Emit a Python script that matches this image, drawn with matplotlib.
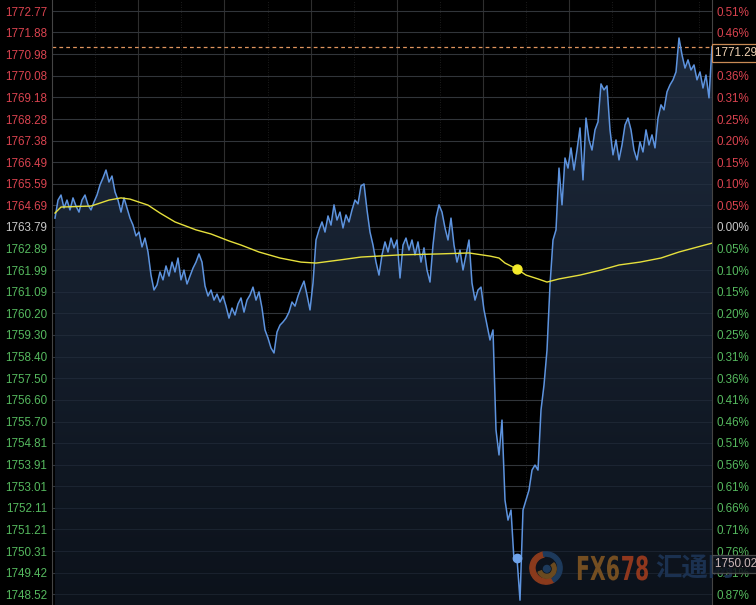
import matplotlib
matplotlib.use('Agg')
import matplotlib.pyplot as plt
import numpy as np
from matplotlib.colors import LinearSegmentedColormap
from matplotlib.patches import Wedge, Circle, PathPatch
from matplotlib.textpath import TextPath
from matplotlib.font_manager import FontProperties
from matplotlib.transforms import Affine2D, blended_transform_factory

# reference (previous close) price and the price grid levels
ref_price = 1763.79
levels = [1772.77, 1771.88, 1770.98, 1770.08, 1769.18, 1768.28, 1767.38,
          1766.49, 1765.59, 1764.69, 1763.79, 1762.89, 1761.99, 1761.09,
          1760.20, 1759.30, 1758.40, 1757.50, 1756.60, 1755.70, 1754.81,
          1753.91, 1753.01, 1752.11, 1751.21, 1750.31, 1749.42, 1748.52]

# intraday price (one point per time step)
price = [
    1764.16, 1764.91, 1765.12, 1764.58, 1764.91, 1764.50, 1765.00, 1764.66, 1764.41, 1764.91,
    1765.12, 1764.71, 1764.50, 1764.83, 1765.12, 1765.54, 1765.83, 1766.16, 1765.66, 1765.91,
    1765.25, 1764.91, 1764.41, 1765.00, 1764.58, 1764.16, 1763.87, 1763.42, 1763.58, 1762.96,
    1763.33, 1762.75, 1761.79, 1761.17, 1761.38, 1761.92, 1761.59, 1762.17, 1761.75, 1762.33,
    1761.92, 1762.50, 1761.59, 1762.00, 1761.42, 1761.75, 1762.08, 1762.33, 1762.67, 1762.33,
    1761.34, 1760.92, 1761.17, 1760.75, 1761.00, 1760.67, 1760.92, 1760.50, 1760.00, 1760.42,
    1760.13, 1760.59, 1760.84, 1760.25, 1760.75, 1760.96, 1761.29, 1760.75, 1761.09, 1760.42,
    1759.51, 1759.17, 1758.76, 1758.55, 1759.42, 1759.71, 1759.84, 1760.00, 1760.25, 1760.67,
    1760.50, 1760.92, 1761.25, 1761.54, 1760.96, 1760.34, 1761.46, 1763.25, 1763.67, 1764.00,
    1763.58, 1764.25, 1763.87, 1764.71, 1764.08, 1764.41, 1763.75, 1764.29, 1764.00, 1764.50,
    1764.91, 1764.75, 1765.50, 1765.58, 1764.50, 1763.58, 1763.04, 1762.33, 1761.79, 1762.63,
    1763.17, 1762.75, 1763.33, 1762.92, 1763.25, 1761.67, 1763.04, 1763.33, 1762.83, 1763.25,
    1762.63, 1763.17, 1762.33, 1762.92, 1762.00, 1761.50, 1763.04, 1764.16, 1764.71, 1764.41,
    1763.75, 1763.25, 1764.16, 1763.04, 1762.33, 1762.83, 1762.00, 1762.63, 1763.25, 1761.46,
    1760.75, 1761.17, 1761.29, 1760.34, 1759.71, 1759.09, 1759.51, 1755.35, 1754.31, 1755.76,
    1752.43, 1751.60, 1752.02, 1749.94, 1750.02, 1748.27, 1752.02, 1752.43, 1752.85, 1753.68,
    1753.89, 1753.68, 1756.18, 1757.22, 1758.67, 1761.38, 1763.25, 1763.67, 1766.24, 1764.71,
    1766.66, 1766.24, 1767.08, 1766.16, 1766.99, 1767.91, 1765.75, 1768.32, 1767.41, 1766.99,
    1767.83, 1768.16, 1769.74, 1769.49, 1769.66, 1767.83, 1766.79, 1767.41, 1766.58, 1767.20,
    1768.03, 1768.32, 1767.83, 1766.99, 1766.58, 1767.33, 1766.91, 1767.83, 1767.20, 1767.62,
    1767.08, 1768.32, 1768.87, 1768.66, 1769.41, 1769.70, 1769.91, 1770.24, 1771.65, 1770.95,
    1770.40, 1770.74, 1770.32, 1770.53, 1769.91, 1770.24, 1769.57, 1770.11, 1769.16, 1771.29,
]

# average price line (time step, value)
avg_t = [0, 2, 12, 18, 22, 25, 31, 35, 40, 47, 52, 58, 62, 68, 75, 82, 87, 95, 102,
         115, 128, 138, 145, 148, 150, 154, 157, 161, 164, 168, 175, 182, 188, 195,
         202, 208, 219]
avg_p = [1764.37, 1764.62, 1764.66, 1764.91, 1765.00, 1764.95, 1764.70, 1764.37,
         1764.00, 1763.67, 1763.50, 1763.21, 1763.04, 1762.75, 1762.50, 1762.33,
         1762.29, 1762.42, 1762.54, 1762.63, 1762.67, 1762.71, 1762.58, 1762.50,
         1762.29, 1762.04, 1761.79, 1761.63, 1761.50, 1761.63, 1761.79, 1762.00,
         1762.21, 1762.33, 1762.50, 1762.75, 1763.12]

last_price = 1771.29
cursor_t = 154
cursor_tag = '1750.02'

t = np.arange(len(price))
ylo, yhi = 1748.07, 1773.23
xlo, xhi = -1, 219

fig = plt.figure(figsize=(7.56, 6.05), dpi=100, facecolor='black')
ax = fig.add_axes([52 / 756, 0, 660 / 756, 1])
ax.set_facecolor('black')
ax.set_xlim(xlo, xhi)
ax.set_ylim(ylo, yhi)

# grid
for lv in levels:
    ax.axhline(lv, color='#2e2e2e', lw=0.8, zorder=0.5)
step = (xhi - xlo) * 86.2 / 660
for j in range(1, 8):
    ax.axvline(xlo + j * step, color='#2e2e2e', lw=0.8, zorder=0.5)
for j in range(8):
    ax.axvline(xlo + (j + 0.5) * step, color='#262626', lw=0.6, ls=(0, (1, 2)), zorder=0.5)

# gradient fill under the price line
poly = ax.fill_between(t, price, ylo, color='none', lw=0)
grad = np.linspace(1, 0, 256).reshape(-1, 1)
cmap = LinearSegmentedColormap.from_list('fill', ['#0c121b', '#1e2b3e'])
im = ax.imshow(grad, extent=[xlo, xhi, ylo, yhi], aspect='auto', cmap=cmap,
               origin='upper', zorder=1)
im.set_clip_path(poly.get_paths()[0], transform=ax.transData)
for lv in levels:
    ax.axhline(lv, color='#3a4658', lw=0.6, alpha=0.35, zorder=1.2)

ax.plot(t, price, color='#5d93de', lw=1.1, zorder=3)
ax.plot(avg_t, avg_p, color='#e6e03c', lw=1.0, zorder=3)
ax.axhline(last_price, color='#e0955e', lw=0.9, ls=(0, (3, 2.5)), zorder=2)

# cursor dots
ax.scatter([cursor_t], [avg_p[avg_t.index(cursor_t)]], s=42, color='#f3ea2a', zorder=4)
ax.scatter([cursor_t], [price[cursor_t]], s=36, color='#6fa3ea', zorder=4)

# axes borders
for side in ['top', 'bottom']:
    ax.spines[side].set_visible(False)
for side in ['left', 'right']:
    ax.spines[side].set_color('#444444')
    ax.spines[side].set_linewidth(0.8)

ax.set_xticks([])
ax.set_yticks(levels)
ax.set_yticklabels(['%.2f' % v for v in levels])
ax.tick_params(axis='y', length=0, pad=3.5, labelsize=8.4)

ax2 = ax.twinx()
ax2.set_ylim(ylo, yhi)
ax2.set_yticks(levels)
ax2.set_yticklabels(['%.2f%%' % (abs(v - ref_price) / ref_price * 100) for v in levels])
ax2.tick_params(axis='y', length=0, pad=3.5, labelsize=8.4)
for s in ax2.spines.values():
    s.set_visible(False)

def level_color(v):
    if v > ref_price + 0.001:
        return '#d9434f'
    if v < ref_price - 0.001:
        return '#55b85e'
    return '#c8c8c8'

for lab, v in zip(ax.get_yticklabels(), levels):
    lab.set_color(level_color(v))
    lab.set_fontfamily('Liberation Sans')
for lab, v in zip(ax2.get_yticklabels(), levels):
    lab.set_color(level_color(v))
    lab.set_fontfamily('Liberation Sans')

# watermark (condensed "FX678" + 汇通网 + swirl logo)
fp = FontProperties(family='DejaVu Sans', weight='bold')
p1 = TextPath((0, 0), 'FX6', size=33, prop=fp)
p2 = TextPath((p1.get_extents().x1 + 3, 0), '78', size=33, prop=fp)
tr = Affine2D().scale(0.62, 1.0).translate(576, 605 - 580)
fig.add_artist(PathPatch(p1, transform=tr, fc='#7a5222', ec='none', alpha=0.95))
fig.add_artist(PathPatch(p2, transform=tr, fc='#983a1e', ec='none', alpha=0.95))
fig.text(655 / 756, 1 - 569 / 605, '汇通网', color='#1b3150', fontsize=19, fontweight='bold',
         va='center', ha='left', family=['Noto Sans CJK SC', 'DejaVu Sans'], zorder=3)
lax = fig.add_axes([529 / 756, 1 - 585 / 605, 34 / 756, 34 / 605])
lax.set_xlim(-1, 1)
lax.set_ylim(-1, 1)
lax.set_aspect('equal')
lax.axis('off')
lax.add_patch(Wedge((0, 0), 0.95, 100, 300, width=0.3, color='#8a3a1c'))
lax.add_patch(Wedge((0, 0), 0.95, 300, 460, width=0.25, color='#1d3a5c'))
lax.add_patch(Wedge((0.05, -0.05), 0.55, 200, 40, width=0.22, color='#6a4a20'))
lax.add_patch(Circle((0.05, -0.05), 0.2, color='#1d3a5c'))

# price tags on the right, drawn over the percent labels and the watermark
tag_tr = blended_transform_factory(fig.transFigure, ax.transData)
fig.text(715 / 756, last_price, '1771.29  ', transform=tag_tr, va='top', ha='left',
         fontsize=8.4, color='#f0d2b4', family='Liberation Sans', zorder=6,
         bbox=dict(boxstyle='square,pad=0.25', fc='black', ec='#c98a55', lw=0.9))
fig.text(715 / 756, price[cursor_t], cursor_tag + '  ', transform=tag_tr, va='top', ha='left',
         fontsize=8.4, color='#cdb8b8', family='Liberation Sans', zorder=6,
         bbox=dict(boxstyle='square,pad=0.25', fc='#10141b', ec='#555555', lw=0.9, alpha=0.85))

fig.savefig('out.png', dpi=100, facecolor='black')
